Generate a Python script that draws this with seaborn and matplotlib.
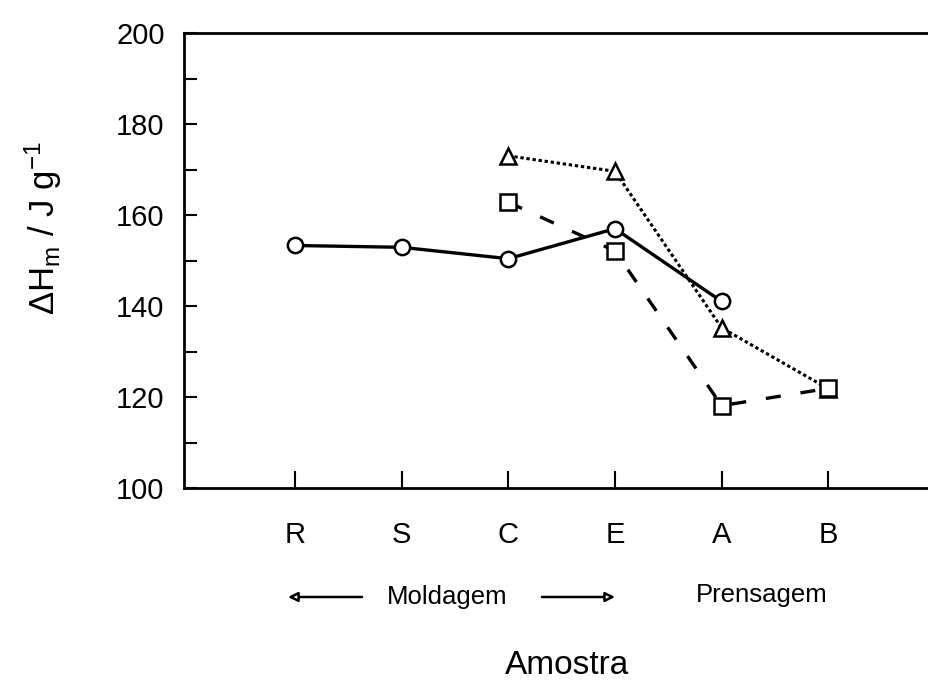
import matplotlib
matplotlib.use("Agg")
import matplotlib.pyplot as plt
import seaborn as sns
import pandas as pd

# ---- data ----
categories = ["R", "S", "C", "E", "A", "B"]

circle_cats = ["R", "S", "C", "E", "A"]
circle_vals = [153.3, 152.9, 150.4, 157.0, 141.0]

triangle_cats = ["C", "E", "A", "B"]
triangle_vals = [173.0, 169.6, 135.2, 121.8]

square_cats = ["C", "E", "A", "B"]
square_vals = [162.8, 152.1, 118.1, 121.9]

yticks = [100, 120, 140, 160, 180, 200]

sns.set_theme(style="white")
plt.rcParams["font.family"] = ["Liberation Sans", "DejaVu Sans"]
plt.rcParams["mathtext.fontset"] = "custom"
plt.rcParams["mathtext.rm"] = "Liberation Sans"
plt.rcParams["mathtext.it"] = "Liberation Sans:italic"
plt.rcParams["text.color"] = "black"
plt.rcParams["axes.labelcolor"] = "black"
plt.rcParams["xtick.color"] = "black"
plt.rcParams["ytick.color"] = "black"

W, H = 929, 682
fig = plt.figure(figsize=(W / 100, H / 100), dpi=100)
fig.patch.set_facecolor("white")
left_px, right_px, top_px, bottom_px = 184, 935, 33, 488
ax = fig.add_axes([left_px / W, 1 - bottom_px / H,
                   (right_px - left_px) / W, (bottom_px - top_px) / H])
ax.set_facecolor("white")


def frame(cats, vals):
    return pd.DataFrame({"x": [categories.index(c) for c in cats], "y": vals})


common = dict(color="black", markerfacecolor="white", markeredgecolor="black",
              markersize=11, markeredgewidth=1.8, ax=ax)

sns.lineplot(data=frame(circle_cats, circle_vals), x="x", y="y", marker="o",
             linewidth=2.4, linestyle="-", **common)
sns.lineplot(data=frame(triangle_cats, triangle_vals), x="x", y="y", marker="^",
             linewidth=2.2, linestyle=(0, (1.1, 0.9)), **common)
sns.lineplot(data=frame(square_cats, square_vals), x="x", y="y", marker="s",
             linewidth=2.4, linestyle=(0, (4.5, 6.0)), **common)

ax.set_xlim(-1.04, 6.0)
ax.set_ylim(100, 200)
ax.set_yticks(yticks)
ax.set_yticks([110, 130, 150, 170, 190], minor=True)
ax.set_xticks(range(len(categories)))
ax.set_xticklabels(categories)

ax.tick_params(axis="y", which="both", direction="in", length=9, width=1.5,
               left=True, right=False, labelsize=21, pad=14, colors="black")
ax.tick_params(axis="x", which="major", direction="in", length=12, width=1.5,
               bottom=True, top=False, labelsize=21, pad=24, colors="black")

for side in ["left", "bottom", "top"]:
    ax.spines[side].set_color("black")
    ax.spines[side].set_linewidth(2.0)
ax.spines["right"].set_visible(False)

ax.set_xlabel("")
ax.set_ylabel("")

# axis titles
fig.text(43 / W, 1 - 228 / H, r"ΔH$_\mathrm{m}$ / J g$^\mathrm{-1}$",
         rotation=90, ha="center", va="center", fontsize=25)
fig.text(567 / W, 1 - 674 / H, "Amostra", ha="center", va="baseline",
         fontsize=24)

# group annotations
fig.text(447 / W, 1 - 604 / H, "Moldagem", ha="center", va="baseline",
         fontsize=18.5)
fig.text(762 / W, 1 - 602 / H, "Prensagem", ha="center", va="baseline",
         fontsize=18.5)
arrow_kw = dict(arrowstyle="-|>", lw=1.8, color="black", mutation_scale=14,
                shrinkA=0, shrinkB=0, fc="white")
ax.annotate("", xy=(288 / W, 1 - 597 / H), xytext=(362 / W, 1 - 597 / H),
            xycoords="figure fraction", textcoords="figure fraction",
            arrowprops=arrow_kw, annotation_clip=False)
ax.annotate("", xy=(615 / W, 1 - 597 / H), xytext=(542 / W, 1 - 597 / H),
            xycoords="figure fraction", textcoords="figure fraction",
            arrowprops=arrow_kw, annotation_clip=False)

fig.savefig("out.png", dpi=100, facecolor="white")
